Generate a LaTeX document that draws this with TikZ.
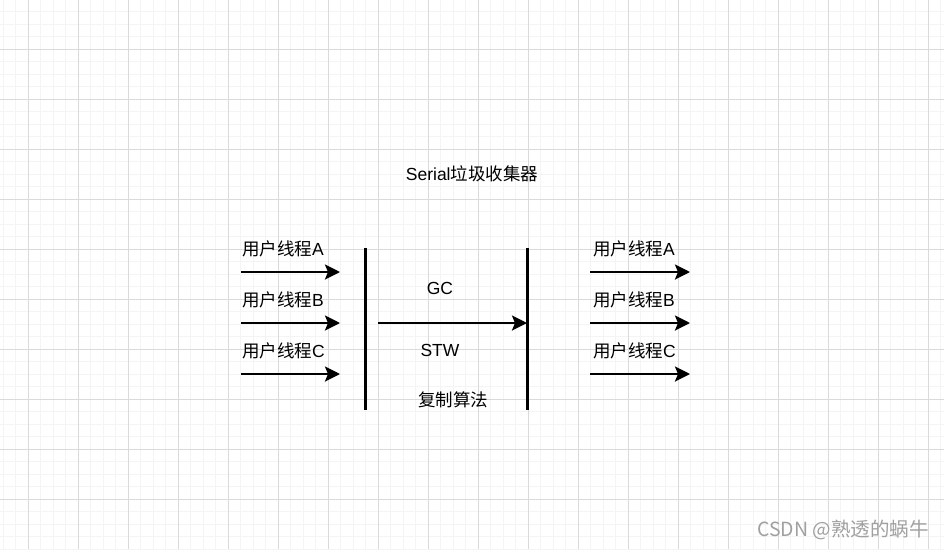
\documentclass[tikz,border=0pt]{standalone}
\usepackage{fontspec}
\setmainfont{Liberation Sans}
\newfontfamily\cjk{Noto Sans CJK SC}
\usetikzlibrary{arrows.meta}
\definecolor{Ink}{HTML}{000000}
\definecolor{MinorGray}{HTML}{F4F4F4}
\definecolor{MajorGray}{HTML}{DADADA}
\definecolor{MarkGray}{HTML}{A0A0A0}
\tikzset{
  gridMinor/.style={draw=MinorGray,line width=1pt},
  gridMajor/.style={draw=MajorGray,line width=1pt},
  threadLabel/.style={anchor=west,inner sep=0pt,text=Ink,font=\fontsize{17.5}{20}\selectfont},
  midLabel/.style={inner sep=0pt,text=Ink,font=\fontsize{17.5}{20}\selectfont},
  flow/.style={-{Stealth[length=15pt,width=15pt,inset=3pt]},draw=Ink,line width=2.6pt},
  barLine/.style={draw=Ink,line width=3pt}
}

\begin{document}
\begin{tikzpicture}[x=1pt,y=-1pt]
  \useasboundingbox (0,0) rectangle (944,549);
  \fill[white] (0,0) rectangle (944,549);
  % background grid
  \foreach \gx in {3,15.5,...,944} \draw[gridMinor] (\gx,0) -- (\gx,549);
  \foreach \gy in {-1,11.5,...,549} \draw[gridMinor] (0,\gy) -- (944,\gy);
  \foreach \gx in {28,78,...,928} \draw[gridMajor] (\gx,0) -- (\gx,549);
  \foreach \gy in {49,99,...,499} \draw[gridMajor] (0,\gy) -- (944,\gy);

  \node[midLabel] (title) at (472,174) {Serial{\cjk 垃圾收集器}};

  % threads before the pause
  \foreach \n/\t/\y in {A/A/272,B/B/323,C/C/374} {
    \node[threadLabel] (inL\n) at (242,\y-23) {{\cjk 用户线程}\t};
    \coordinate (inS\n) at (241,\y);
    \coordinate (inE\n) at (340,\y);
    \draw[flow] (inS\n) -- (inE\n);
  }

  % stop-the-world window
  \coordinate (barLt) at (365,248);
  \coordinate (barLb) at (365,410);
  \coordinate (barRt) at (527,248);
  \coordinate (barRb) at (527,410);
  \draw[barLine] (barLt) -- (barLb);
  \draw[barLine] (barRt) -- (barRb);
  \coordinate (gcS) at (378,323);
  \coordinate (gcE) at (527,323);
  \draw[flow] (gcS) -- (gcE);
  \node[midLabel] (gc) at (440,288) {GC};
  \node[midLabel] (stw) at (440,350) {STW};
  \node[midLabel] (copy) at (453,400) {\cjk 复制算法};

  % threads after the pause
  \foreach \n/\t/\y in {A/A/272,B/B/323,C/C/374} {
    \node[threadLabel] (outL\n) at (593,\y-23) {{\cjk 用户线程}\t};
    \coordinate (outS\n) at (590,\y);
    \coordinate (outE\n) at (690,\y);
    \draw[flow] (outS\n) -- (outE\n);
  }

  \node[anchor=east,inner sep=0pt,text=MarkGray,font=\cjk\fontsize{19.5}{22}\selectfont] (mark) at (929,530) {CSDN @熟透的蜗牛};
\end{tikzpicture}
\end{document}
